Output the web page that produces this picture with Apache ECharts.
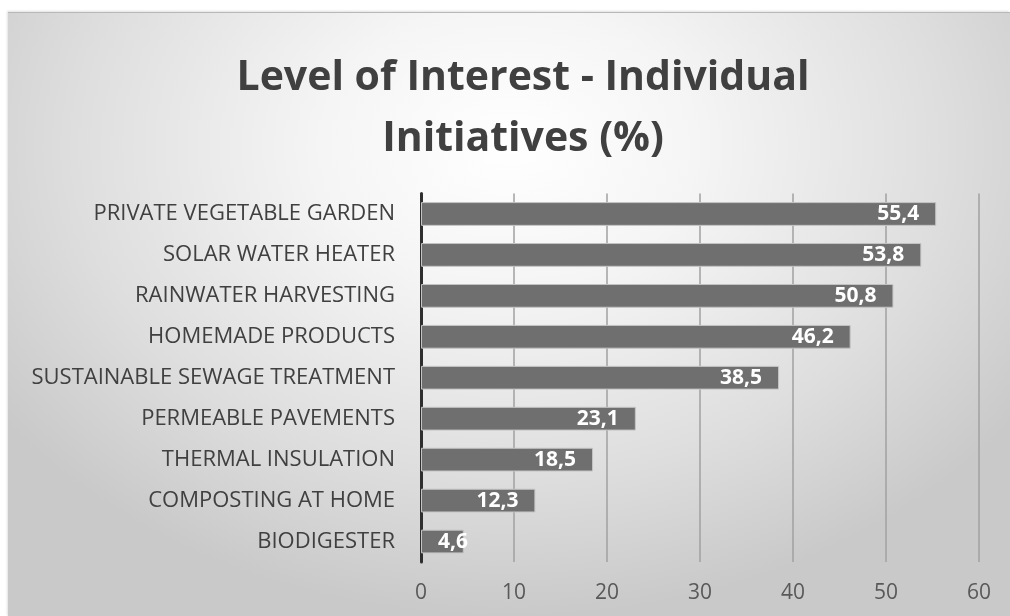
<!DOCTYPE html>
<html>
<head>
<meta charset="utf-8">
<script src="https://cdn.jsdelivr.net/npm/echarts@6/dist/echarts.min.js"></script>
<style>
  html, body { margin: 0; padding: 0; background: #ffffff; }
  #panel {
    position: absolute; left: 8px; top: 12px; width: 1002px; height: 604px;
    background: radial-gradient(ellipse 62% 78% at 50% 22%, #ffffff 0%, #f5f5f5 30%, #dedede 70%, #c9c9c9 100%);
    border-top: 1px solid #b8b8b8;
    box-shadow: -1px -1px 2px rgba(0,0,0,0.12);
  }
  #chart { width: 1002px; height: 604px; }
</style>
</head>
<body>
<div id="panel"><div id="chart"></div></div>
<script>
// Share of respondents interested in each individual initiative (%)
const categories = [
  'PRIVATE VEGETABLE GARDEN',
  'SOLAR WATER HEATER',
  'RAINWATER HARVESTING',
  'HOMEMADE PRODUCTS',
  'SUSTAINABLE SEWAGE TREATMENT',
  'PERMEABLE PAVEMENTS',
  'THERMAL INSULATION',
  'COMPOSTING AT HOME',
  'BIODIGESTER'
];
const interest = [55.4, 53.8, 50.8, 46.2, 38.5, 23.1, 18.5, 12.3, 4.6];
const xTicks = [0, 10, 20, 30, 40, 50, 60];

const fmt = v => String(v).replace('.', ',');

// Short bars cannot hold their label inside the end, so anchor those from the axis instead
const barData = interest.map(v => v < 8
  ? { value: v, label: { position: 'insideLeft', distance: 17 } }
  : v);

const chart = echarts.init(document.getElementById('chart'), null, { renderer: 'canvas' });
chart.setOption({
  backgroundColor: 'transparent',
  animation: false,
  title: {
    text: 'Level of Interest - Individual\nInitiatives (%)',
    left: 510,
    textAlign: 'center',
    top: 30,
    textStyle: {
      fontFamily: 'Open Sans',
      fontWeight: 'bold',
      fontSize: 41,
      lineHeight: 61,
      color: '#404040'
    }
  },
  grid: { left: 413, right: 31, top: 180.5, bottom: 55 },
  xAxis: {
    type: 'value',
    min: xTicks[0],
    max: xTicks[xTicks.length - 1],
    interval: xTicks[1] - xTicks[0],
    axisLine: { show: false },
    axisTick: { show: false },
    axisLabel: {
      margin: 21,
      fontFamily: 'Open Sans',
      fontSize: 21,
      color: '#595959'
    },
    splitLine: { show: true, lineStyle: { color: '#a0a0a0', width: 1.5 } }
  },
  yAxis: {
    type: 'category',
    data: categories,
    inverse: true,
    axisLine: { show: true, lineStyle: { color: '#2e2e2e', width: 3 } },
    axisTick: { show: false },
    axisLabel: {
      margin: 26,
      fontFamily: 'Open Sans',
      fontSize: 22,
      color: '#404040'
    }
  },
  series: [{
    type: 'bar',
    data: barData,
    barCategoryGap: '42%',
    itemStyle: { color: '#6f6f6f', borderColor: '#c4c4c4', borderWidth: 1 },
    label: {
      show: true,
      position: 'insideRight',
      distance: 17,
      formatter: p => fmt(p.value),
      fontFamily: 'Open Sans',
      fontWeight: 'bold',
      fontSize: 21,
      color: '#ffffff'
    },
    z: 3
  }]
});
</script>
</body>
</html>
